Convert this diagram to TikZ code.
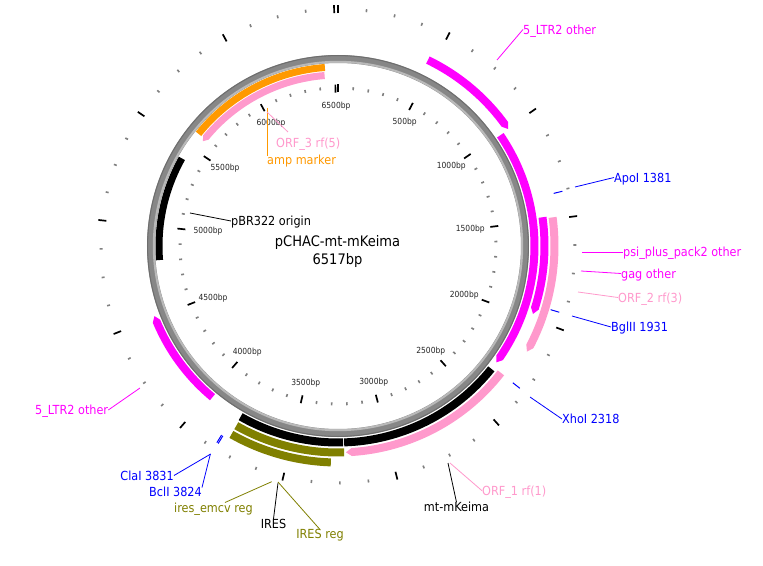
\documentclass[tikz,border=0pt]{standalone}
\usepackage{fontspec}
\setmainfont{DejaVu Sans}[FakeStretch=0.9]
\definecolor{mag}{RGB}{255,0,255}
\definecolor{pnk}{RGB}{255,153,204}
\definecolor{org}{RGB}{255,153,0}
\definecolor{olv}{RGB}{128,128,0}
\definecolor{blu}{RGB}{0,0,255}
\definecolor{gry}{RGB}{128,128,128}
% band: color, r_in, r_out, a1, a2 (degrees clockwise from top)
\newcommand{\plband}[5]{\fill[#1] ({90-(#4)}:#3) arc[start angle={90-(#4)}, end angle={90-(#5)}, radius=#3] -- ({90-(#5)}:#2) arc[start angle={90-(#5)}, end angle={90-(#4)}, radius=#2] -- cycle;}
\newcommand{\plfwd}[5]{\fill[#1] ({90-(#4)}:#3) arc[start angle={90-(#4)}, end angle={90-(#5)+1.6}, radius=#3] -- ({90-(#5)}:{(#2+#3)/2}) -- ({90-(#5)+1.6}:#2) arc[start angle={90-(#5)+1.6}, end angle={90-(#4)}, radius=#2] -- cycle;}
\newcommand{\plrev}[5]{\fill[#1] ({90-(#4)-1.6}:#3) arc[start angle={90-(#4)-1.6}, end angle={90-(#5)}, radius=#3] -- ({90-(#5)}:#2) arc[start angle={90-(#5)}, end angle={90-(#4)-1.6}, radius=#2] -- ({90-(#4)}:{(#2+#3)/2}) -- cycle;}
\begin{document}
\begin{tikzpicture}[x=1pt,y=1pt,
  lab/.style={font=\fontsize{12.5}{14}\selectfont, inner sep=0pt, text height=9.1pt, text depth=0pt},
  bpl/.style={font=\fontsize{8.4}{10}\selectfont, inner sep=0pt, text height=6.1pt, text depth=0pt, text=black!85},
  ttl/.style={font=\fontsize{14.5}{17}\selectfont, inner sep=0pt, anchor=base},
  majt/.style={line width=1.7pt, black},
  mint/.style={line width=1.6pt, gry},
  conn/.style={line width=0.8pt},
  site/.style={line width=1pt, blu}]
\useasboundingbox (-338,-319) rectangle (425,246);
\fill[white] (-338,-319) rectangle (425,246);

% backbone ring
\draw[line width=8pt, draw={rgb,255:red,135;green,135;blue,135}] (0,0) circle[radius=187];
\draw[line width=2pt, draw={rgb,255:red,185;green,185;blue,185}] (0,0) circle[radius=184.2];
\draw[line width=1pt, draw={rgb,255:red,110;green,110;blue,110}] (0,0) circle[radius=190.4];

% inner ticks
\foreach \i in {0,...,65}{
  \pgfmathtruncatemacro\mj{mod(\i,5)==0 ? 1 : 0}
  \pgfmathsetmacro\an{90-\i*5.524014}
  \ifnum\mj=1 \draw[majt] (\an:153.5) -- (\an:161.5); \else \draw[mint] (\an:156.5) -- (\an:159.5); \fi
}
% outer ticks
\foreach \i in {0,...,52}{
  \pgfmathtruncatemacro\mj{mod(\i,4)==0 ? 1 : 0}
  \pgfmathsetmacro\an{90-\i*6.905018}
  \ifnum\mj=1 \draw[majt] (\an:233) -- (\an:241); \else \draw[mint] (\an:235.5) -- (\an:238.5); \fi
}

% bp labels
\node[bpl] (b500) at (66.7,125) {500bp};
\node[bpl] (b1000) at (113.3,81) {1000bp};
\node[bpl] (b1500) at (132.3,17.7) {1500bp};
\node[bpl] (b2000) at (126.2,-48.3) {2000bp};
\node[bpl] (b2500) at (92.8,-104) {2500bp};
\node[bpl] (b3000) at (35.8,-135) {3000bp};
\node[bpl] (b3500) at (-32.2,-136.3) {3500bp};
\node[bpl] (b4000) at (-90.8,-105) {4000bp};
\node[bpl] (b4500) at (-125,-51) {4500bp};
\node[bpl] (b5000) at (-130,16) {5000bp};
\node[bpl] (b5500) at (-113,79) {5500bp};
\node[bpl] (b6000) at (-67,124) {6000bp};
\node[bpl] (b6500) at (-2,141) {6500bp};

% title
\node[ttl] (title1) at (-0.5,-0.9) {pCHAC-mt-mKeima};
\node[ttl] (title2) at (-0.5,-18.6) {6517bp};

% features, inner tracks
\plband{org}{175.5}{182.5}{308.8}{355.8}
\plrev{pnk}{167.5}{174.5}{307.8}{355.5}
\plband{black}{175.5}{182.5}{265.5}{299.3}
% outer tracks
\plfwd{mag}{202.5}{210.5}{25.8}{55.5}
\plfwd{mag}{192.5}{200.5}{55.7}{126.3}
\plfwd{mag}{202.5}{210.5}{82}{109.2}
\plfwd{pnk}{212.5}{220.5}{82.4}{119.2}
\plband{black}{192.5}{200.5}{128.7}{178.2}
\plband{black}{192.5}{200.5}{178.5}{209.7}
\plfwd{pnk}{202.5}{210.5}{127.9}{177.8}
\plband{olv}{202.5}{210.5}{178.3}{209.5}
\plband{olv}{212.5}{220.5}{181.9}{209.5}
\plfwd{mag}{192.5}{200.5}{219.7}{249.1}

% restriction sites
\draw[site] ({90-76.29}:222) -- ({90-76.29}:231);
\draw[site] ({90-106.67}:222) -- ({90-106.67}:231);
\draw[site] ({90-128.04}:222) -- ({90-128.04}:231);
\draw[site] ({90-211.63}:222) -- ({90-211.63}:231);
\draw[site] ({90-211.24}:222) -- ({90-211.24}:231);

% label anchors
\coordinate (sLtrR) at (159,186);
\coordinate (sApo) at (237,59);
\coordinate (sPsi) at (244,-6);
\coordinate (sGag) at (243,-25);
\coordinate (sOrf2) at (240,-46);
\coordinate (sBgl) at (234,-70);
\coordinate (sXho) at (192,-151);
\coordinate (sOrf1) at (112,-217);
\coordinate (sMt) at (110,-217);
\coordinate (sIres) at (-60,-237);
\coordinate (sIresReg) at (-60,-236);
\coordinate (sEmcv) at (-66.3,-235.7);
\coordinate (eEmcv) at (-113,-256.5);
\coordinate (sCla) at (-127.3,-208);
\coordinate (sBcl) at (-127.6,-208);
\coordinate (sLtrL) at (-198,-142);
\coordinate (sPbr) at (-148,33);
\coordinate (sAmp) at (-71,138);
\coordinate (sOrf3) at (-71,134);
\coordinate (eOrf3) at (-50,114);

% labels
\node[lab, anchor=west, text=mag] (tLtrR) at (185,216.5) {5\_LTR2 other};
\node[lab, anchor=west, text=blu] (tApo) at (276,68.5) {ApoI 1381};
\node[lab, anchor=west, text=mag] (tPsi) at (285,-6) {psi\_plus\_pack2 other};
\node[lab, anchor=west, text=mag] (tGag) at (283,-27.5) {gag other};
\node[lab, anchor=west, text=pnk] (tOrf2) at (280,-51.5) {ORF\_2 rf(3)};
\node[lab, anchor=west, text=blu] (tBgl) at (273,-81) {BglII 1931};
\node[lab, anchor=west, text=blu] (tXho) at (224,-173) {XhoI 2318};
\node[lab, anchor=west, text=pnk] (tOrf1) at (144,-244.7) {ORF\_1 rf(1)};
\node[lab, anchor=north, text=black] (tMt) at (118.5,-256.2) {mt-mKeima};
\node[lab, anchor=north, text=black] (tIres) at (-64.5,-272.8) {IRES};
\node[lab, anchor=north, text=olv] (tIresReg) at (-18,-283.5) {IRES reg};
\node[lab, anchor=east, text=olv] (tEmcv) at (-85,-261.7) {ires\_emcv reg};
\node[lab, anchor=east, text=blu] (tCla) at (-164,-229.5) {ClaI 3831};
\node[lab, anchor=north east, text=blu] (tBcl) at (-136,-241.5) {BclI 3824};
\node[lab, anchor=east, text=mag] (tLtrL) at (-229.7,-164) {5\_LTR2 other};
\node[lab, anchor=west, text=black] (tPbr) at (-107,25) {pBR322 origin};
\node[lab, anchor=north west, text=org] (tAmp) at (-71,90.4) {amp marker};
\node[lab, anchor=west, text=pnk] (tOrf3) at (-62,102.7) {ORF\_3 rf(5)};

% connectors
\draw[conn, mag] (sLtrR) -- (tLtrR.west);
\draw[conn, blu] (sApo) -- (tApo.west);
\draw[conn, mag] (sPsi) -- (tPsi.west);
\draw[conn, mag] (sGag) -- (tGag.west);
\draw[conn, pnk] (sOrf2) -- (tOrf2.west);
\draw[conn, blu] (sBgl) -- (tBgl.west);
\draw[conn, blu] (sXho) -- (tXho.west);
\draw[conn, pnk] (sOrf1) -- (tOrf1.west);
\draw[conn, black] (sMt) -- (tMt.north);
\draw[conn, black] (sIres) -- (tIres.north);
\draw[conn, olv] (sIresReg) -- (tIresReg.north);
\draw[conn, olv] (sEmcv) -- (eEmcv);
\draw[conn, blu] (sCla) -- (tCla.east);
\draw[conn, blu] (sBcl) -- (tBcl.north east);
\draw[conn, mag] (sLtrL) -- (tLtrL.east);
\draw[conn, black] (sPbr) -- (tPbr.west);
\draw[conn, org] (sAmp) -- (tAmp.north west);
\draw[conn, pnk] (sOrf3) -- (eOrf3);
\end{tikzpicture}
\end{document}
